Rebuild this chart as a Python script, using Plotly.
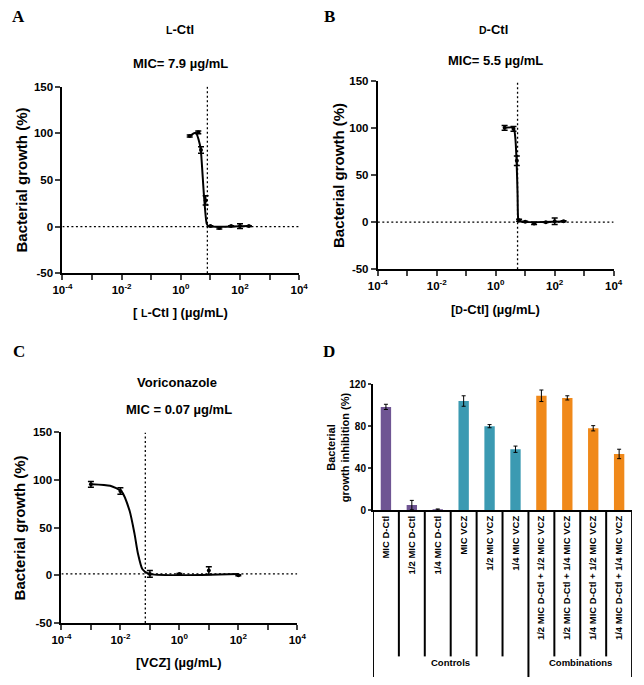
import plotly.graph_objects as go

W, H = 644, 685

# ---------------- data ----------------
# Panel A : L-Ctl
a_conc = [2, 3.9, 4.8, 6.9, 10, 20, 50, 100, 200]
a_growth = [97, 101, 82, 28, 0.5, -1.5, 0.5, 0.5, 0.5]
a_err = [1, 1.5, 3.5, 5, 0.5, 1, 0.5, 2.5, 0.5]
a_fit_conc = [2, 3.2, 4.4, 4.8, 6.1, 7.5, 8.5, 200]
a_fit_growth = [97, 100.5, 88, 80, 32, 3, 0.5, 0.5]
a_mic = 7.9

# Panel B : D-Ctl
b_conc = [2, 4, 5.2, 6.2, 10, 20, 50, 100, 200]
b_growth = [100, 99, 65, 2, 0.5, -1.5, 0, 1, 1]
b_err = [2.5, 2.5, 5, 1, 0.5, 1, 0.5, 3.5, 0.5]
b_fit_conc = [2, 4, 4.6, 5.1, 5.5, 5.8, 6.3, 200]
b_fit_growth = [100, 100, 90, 65, 30, 3, 0.8, 0.8]
b_mic = 5.5

# Panel C : Voriconazole
c_conc = [0.001, 0.01, 0.1, 1, 10, 100]
c_growth = [95.5, 88.5, 1.5, 1.5, 5, 0]
c_err = [3, 3.5, 3.5, 0.5, 4, 0.5]
c_fit_conc = [0.00107, 0.0045, 0.011, 0.0204, 0.030, 0.039, 0.056, 0.093, 100]
c_fit_growth = [95.7, 94, 88, 68, 44, 23.5, 6.4, 1.5, 1.5]
c_mic = 0.07
c_baseline = 1.5

# Panel D : combinations
d_labels = ["MIC D-Ctl", "1/2 MIC D-Ctl", "1/4 MIC D-Ctl", "MIC VCZ", "1/2 MIC VCZ",
            "1/4 MIC VCZ", "1/2 MIC D-Ctl + 1/2 MIC VCZ", "1/2 MIC D-Ctl + 1/4 MIC VCZ",
            "1/4 MIC D-Ctl + 1/2 MIC VCZ", "1/4 MIC D-Ctl + 1/4 MIC VCZ"]
d_values = [98.4, 4.7, 0.5, 104, 80, 58, 109, 107, 78, 53.5]
d_errors = [2.5, 4.5, 0.5, 5, 1.5, 3, 5.5, 2, 2.5, 4.5]
d_groups = ["Controls", "Combinations"]
d_group_sizes = [6, 4]

x_tickvals = [1e-4, 1e-3, 1e-2, 1e-1, 1, 10, 100, 1e3, 1e4]
x_ticktext = ["10<sup>-4</sup>", "", "10<sup>-2</sup>", "", "10<sup>0</sup>", "",
              "10<sup>2</sup>", "", "10<sup>4</sup>"]
y_tickvals = [-50, 0, 50, 100, 150]
y_ticktext = ["-50", "0", "50", "100", "150"]

# ---------------- styling helpers ----------------
FONT = "Liberation Sans, Arial, sans-serif"
SERIF = "Liberation Serif, Times New Roman, serif"
purple, teal, orange = "#6F5593", "#3B9AB2", "#F0891A"
d_colors = [purple] * 3 + [teal] * 3 + [orange] * 4
DOT = "2px,2.5px"


def fx(p):
    return p / W


def fy(p):
    return 1 - p / H


fig = go.Figure()

panels = [
    ("", a_conc, a_growth, a_err, a_fit_conc, a_fit_growth, a_mic, 0, (54, 298, 82, 272)),
    ("2", b_conc, b_growth, b_err, b_fit_conc, b_fit_growth, b_mic, 0, (379, 622, 76, 268)),
    ("3", c_conc, c_growth, c_err, c_fit_conc, c_fit_growth, c_mic, c_baseline, (53, 296, 434, 628)),
]

layout_axes = {}
for key, cx, cy, ce, fxv, fyv, mic, base, dom in panels:
    xa, ya = "x" + key, "y" + key
    fig.add_trace(go.Scatter(x=[1e-4, 1e4], y=[base, base], mode="lines",
                             line=dict(color="black", width=1.3, dash=DOT),
                             xaxis=xa, yaxis=ya, hoverinfo="skip", showlegend=False))
    fig.add_trace(go.Scatter(x=[mic, mic], y=[-50, 150], mode="lines",
                             line=dict(color="black", width=1.3, dash=DOT),
                             xaxis=xa, yaxis=ya, hoverinfo="skip", showlegend=False))
    fig.add_trace(go.Scatter(x=fxv, y=fyv, mode="lines",
                             line=dict(color="black", width=2, shape="spline", smoothing=0.6),
                             xaxis=xa, yaxis=ya, showlegend=False))
    fig.add_trace(go.Scatter(x=cx, y=cy, mode="markers",
                             marker=dict(color="black", size=4),
                             error_y=dict(type="data", array=ce, color="black", thickness=1.5, width=3),
                             xaxis=xa, yaxis=ya, showlegend=False))
    x0, x1, yt, yb = dom
    layout_axes["xaxis" + key] = dict(
        domain=[fx(x0), fx(x1)], anchor=ya, type="log", range=[-4, 4],
        tickvals=x_tickvals, ticktext=x_ticktext, ticks="outside", ticklen=5, tickwidth=2,
        showline=True, linewidth=2, linecolor="black", showgrid=False, zeroline=False,
        tickfont=dict(family=FONT, size=11.5, color="black", weight="bold"))
    layout_axes["yaxis" + key] = dict(
        domain=[fy(yb), fy(yt)], anchor=xa, range=[-50, 150], tickvals=y_tickvals,
        ticktext=y_ticktext,
        ticks="outside", ticklen=5, tickwidth=2, showline=True, linewidth=2,
        linecolor="black", showgrid=False, zeroline=False,
        tickfont=dict(family=FONT, size=11.5, color="black", weight="bold"))

# Panel D bars
fig.add_trace(go.Bar(x=d_labels, y=d_values, marker=dict(color=d_colors, line=dict(width=0)),
                     width=0.4,
                     error_y=dict(type="data", array=d_errors, color="black", thickness=1, width=2),
                     xaxis="x4", yaxis="y4", showlegend=False))
layout_axes["xaxis4"] = dict(
    domain=[fx(374), fx(641)], anchor="y4", type="category", range=[-0.5, 9.5],
    tickangle=-90, ticks="", showline=True, linewidth=2, linecolor="black",
    showgrid=False, zeroline=False,
    tickfont=dict(family=FONT, size=9.5, color="black", weight="bold"))
layout_axes["yaxis4"] = dict(
    domain=[fy(513), fy(385)], anchor="x4", range=[0, 120], tickvals=[0, 40, 80, 120],
    ticks="outside", ticklen=3, tickwidth=1.5, showline=True, linewidth=2,
    linecolor="black", showgrid=False, zeroline=False,
    tickfont=dict(family=FONT, size=10, color="black", weight="bold"))

# separators under panel D
shapes = []
boundaries = [-0.5]
for s in d_group_sizes:
    boundaries.append(boundaries[-1] + s)
for k in range(len(d_labels) + 1):
    xb = k - 0.5
    outer = xb in boundaries
    shapes.append(dict(type="line", xref="x4", yref="paper", x0=xb, x1=xb,
                       y0=fy(513), y1=fy(683 if outer else 662),
                       line=dict(color="black", width=2)))

annotations = []


def ann(text, xp, yp, size, bold=True, angle=0, family=FONT, xanchor="center"):
    annotations.append(dict(text=text, x=fx(xp), y=fy(yp), xref="paper", yref="paper",
                            showarrow=False, textangle=angle, xanchor=xanchor, yanchor="middle",
                            font=dict(family=family, size=size, color="black",
                                      weight="bold" if bold else "normal")))


start = -0.5
for g, s in zip(d_groups, d_group_sizes):
    mid = start + s / 2
    annotations.append(dict(text=g, x=mid, y=fy(676), xref="x4", yref="paper", showarrow=False,
                            font=dict(family=FONT, size=9.5, color="black", weight="bold")))
    start += s

sc = "<span style='font-size:10.5px'>L</span>"
scD = "<span style='font-size:10.5px'>D</span>"
ann("A", 9, 11, 17, family=SERIF)
ann("B", 329, 11, 17, family=SERIF)
ann("C", 9, 352, 17, family=SERIF)
ann("D", 329, 352, 17, family=SERIF)
ann(sc + "-Ctl", 175, 24, 13)
ann("MIC= 7.9 µg/mL", 176, 59, 13)
ann(scD + "-Ctl", 498, 24, 13)
ann("MIC= 5.5 µg/mL", 500, 55, 13)
ann("Voriconazole", 172, 383, 13)
ann("MIC = 0.07 µg/mL", 174, 411, 13)
ann("[ " + sc + "-Ctl ] (µg/mL)", 176, 312, 13)
ann("[" + scD + "-Ctl] (µg/mL)", 500, 309, 13)
ann("[VCZ] (µg/mL)", 174, 668, 13)
ann("Bacterial growth (%)", 12, 177, 15, angle=-90)
ann("Bacterial growth (%)", 339, 172, 15, angle=-90)
ann("Bacterial growth (%)", 10, 531, 15, angle=-90)
ann("Bacterial<br>growth inhibition (%)", 338, 449, 11, angle=-90)

fig.update_layout(width=W, height=H, margin=dict(l=0, r=0, t=0, b=0),
                  paper_bgcolor="white", plot_bgcolor="white",
                  shapes=shapes, annotations=annotations, bargap=0.6,
                  **layout_axes)

fig.write_html("out.html", config={"displayModeBar": False},
               post_script="document.body.style.margin='0';document.body.style.overflow='hidden';")
